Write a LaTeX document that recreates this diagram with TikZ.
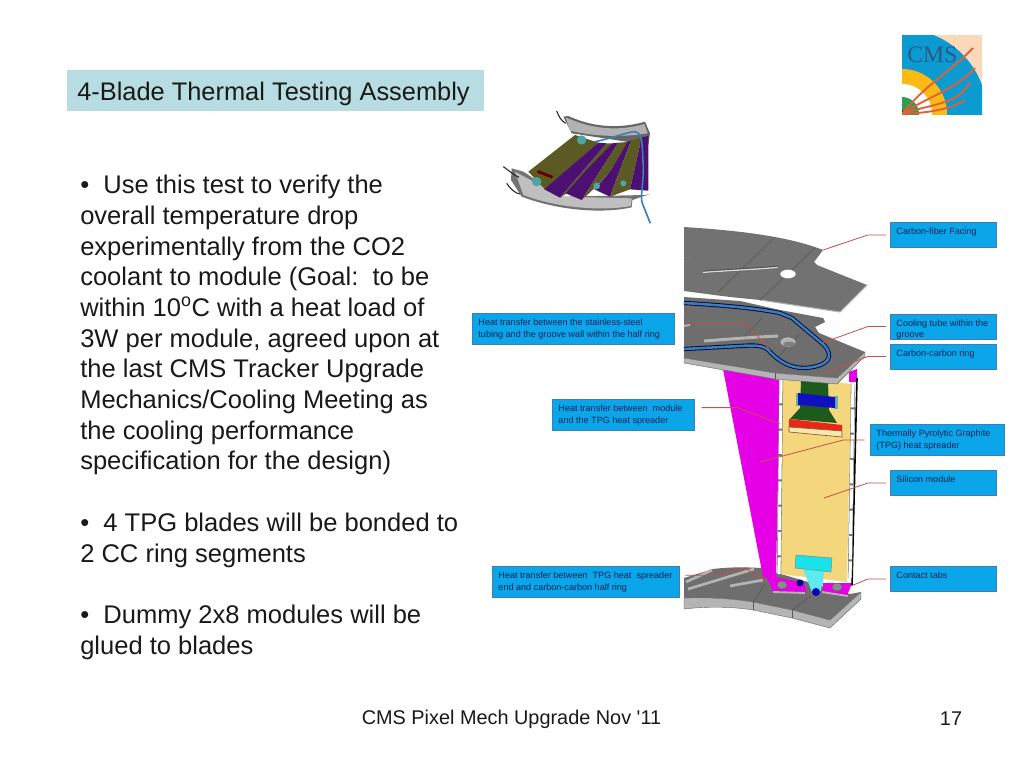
\documentclass[tikz,border=0pt]{standalone}
\usepackage{fontspec}
\setmainfont{Liberation Sans}
\newfontfamily\cmsserif{Liberation Serif}
\newfontfamily\plainsans[Ligatures=ResetAll]{Liberation Sans}
\definecolor{titlebg}{HTML}{B7DDE2}
\definecolor{calloutfill}{HTML}{0BA5EA}
\definecolor{calloutedge}{HTML}{3F7FAE}
\definecolor{callouttext}{HTML}{062458}
\definecolor{leader}{HTML}{C8504A}
\definecolor{plate}{HTML}{6E6E6E}
\definecolor{facing}{HTML}{727272}
\definecolor{plateedge}{HTML}{B4B4B4}
\definecolor{wedge}{HTML}{E600E6}
\definecolor{modulecol}{HTML}{F4D67C}
\definecolor{tube}{HTML}{3A7FB5}
\definecolor{olive}{HTML}{5A5A22}
\definecolor{purp}{HTML}{4C1072}
\definecolor{peach}{HTML}{FBD9B8}
\definecolor{cmsblue}{HTML}{0C9BD0}
\definecolor{cmsyellow}{HTML}{FDB913}
\definecolor{cmsgreen}{HTML}{2E9E4F}
\definecolor{track}{HTML}{E0603A}
\definecolor{cmstext}{HTML}{2A5A8A}
\definecolor{cyantab}{HTML}{19E3E8}
\definecolor{greenpcb}{HTML}{1E5A1E}
\definecolor{chip}{HTML}{1010C0}
\definecolor{redbar}{HTML}{E8261A}
\tikzset{
  body/.style={anchor=north west,inner sep=0pt,align=left,font=\fontsize{19.15pt}{23pt}\selectfont,text=black!90},
  cbox/.style={anchor=north west,fill=calloutfill,draw=calloutedge,line width=0.7pt,inner xsep=4.5pt,inner ysep=0pt,text=callouttext,font=\fontsize{6.8pt}{8.7pt}\selectfont},
  lead/.style={draw=leader,line width=0.6pt},
  slotline/.style={draw=plateedge,line width=2pt},
  seam/.style={draw=black!65,line width=0.5pt},
  edgeside/.style={fill=plateedge,draw=black!60,line width=0.3pt},
}
\newcommand{\cbt}[3]{\parbox[c][#2][t]{#1}{\vspace{4.1pt}\raggedright #3}}
\begin{document}
\begin{tikzpicture}[x=0.75pt,y=-0.75pt]
\useasboundingbox (0,0) rectangle (1024,768);
\fill[white] (0,0) rectangle (1024,768);
% title
\node[anchor=north west,fill=titlebg,minimum width=312.75pt,minimum height=30.75pt,inner sep=0pt] (titlebox) at (67,70) {};
\node[anchor=west,inner sep=0pt,font=\fontsize{19.05pt}{23pt}\selectfont,text=black!90] (titletext) at (77,94) {4-Blade Thermal Testing Assembly};
% body
\node[body] (p1) at (80,175) {\textbullet{} \ Use this test to verify the\\overall temperature drop\\experimentally from the CO2\\coolant to module (Goal:\ \ to be\\within 10\textsuperscript{o}C with a heat load of\\3W per module, agreed upon at\\the last CMS Tracker Upgrade\\Mechanics/Cooling Meeting as\\the cooling performance\\specification for the design)};
\node[body] (p2) at (80,513) {\textbullet{} \ 4 TPG blades will be bonded to\\2 CC ring segments};
\node[body] (p3) at (80,605) {\textbullet{} \ Dummy 2x8 modules will be\\glued to blades};
% footer
\node[font=\plainsans\fontsize{14.9pt}{18pt}\selectfont,text=black!90,inner sep=0pt] (foot) at (511.5,719) {CMS Pixel Mech Upgrade Nov '11};
\node[font=\fontsize{14.9pt}{18pt}\selectfont,text=black!90,inner sep=0pt] (pageno) at (951,719) {17};
% logo
\begin{scope}
\clip (902,35) rectangle (982,114);
\fill[peach] (902,35) rectangle (982,114);
\fill[cmsblue] (902,114) circle[radius=85];
\fill[cmsyellow] (902,114) circle[radius=45];
\fill[white] (902,114) circle[radius=30];
\fill[cmsgreen] (902,114) circle[radius=17];
\fill[red!70!black] (902,114) circle[radius=4];
\draw[track,line width=1.4pt] (902,114) .. controls (925,85) and (950,72) .. (973,48);
\draw[track,line width=1.4pt] (902,114) .. controls (925,98) and (955,90) .. (975,68);
\draw[track,line width=1.4pt] (902,114) .. controls (925,105) and (960,105) .. (970,82);
\draw[track,line width=1.4pt] (902,114) .. controls (925,113) and (950,110) .. (965,100);
\end{scope}
\node[anchor=base west,inner sep=0pt,text=cmstext,font=\cmsserif\fontsize{17.8pt}{20pt}\selectfont] (cmslabel) at (907,62) {CMS};
% small assembly picture
\begin{scope}[shift={(495,100)},x=0.25pt,y=-0.25pt]
\fill[black!60] (205,50) -- (220,48) .. controls (300,85) and (380,85) .. (450,65) -- (465,100) -- (460,135) -- (230,100) -- cycle;
\fill[black!30] (212,52) .. controls (300,92) and (380,92) .. (448,72) -- (458,100) .. controls (380,112) and (300,110) .. (225,92) -- cycle;
\fill[black!55] (50,205) -- (85,215) -- (200,290) -- (450,285) -- (465,282) -- (412,300) -- (410,322) .. controls (330,340) and (200,335) .. (80,290) -- (48,240) -- cycle;
\fill[black!25] (60,215) -- (200,290) -- (410,295) -- (408,318) .. controls (330,332) and (200,328) .. (85,285) -- cycle;
\fill[olive] (240,105) -- (310,128) -- (150,268) -- (100,215) -- cycle;
\fill[purp] (310,128) -- (335,130) -- (195,293) -- (148,268) -- cycle;
\fill[olive] (335,130) -- (352,130) -- (270,225) -- (215,280) -- (195,293) -- cycle;
\fill[purp] (352,130) -- (370,128) -- (260,300) -- (212,280) -- (270,215) -- cycle;
\fill[olive] (370,128) -- (398,126) -- (345,215) -- (298,265) -- (260,300) -- cycle;
\fill[purp] (398,125) -- (408,122) -- (345,290) -- (298,268) -- (345,215) -- cycle;
\fill[olive] (408,122) -- (440,112) -- (405,268) -- (345,290) -- cycle;
\fill[purp] (440,112) -- (460,108) -- (460,272) -- (405,268) -- cycle;
\fill[red!40!black] (130,210) -- (175,228) -- (170,235) -- (125,218) -- cycle;
\fill[teal!70] (260,120) circle[radius=14];
\fill[teal!70] (125,245) circle[radius=14];
\fill[teal!70] (305,258) circle[radius=10];
\fill[teal!70] (385,250) circle[radius=9];
\draw[black!85,line width=0.8pt] (185,33) .. controls (192,50) and (198,62) .. (212,70);
\draw[black!85,line width=0.8pt] (25,200) .. controls (40,210) and (55,225) .. (72,232);
\draw[black!85,line width=0.8pt] (35,250) .. controls (45,265) and (60,280) .. (75,282);
\draw[tube,line width=1.2pt] (300,125) .. controls (350,115) and (400,95) .. (420,95) .. controls (445,100) and (440,130) .. (445,200) .. controls (445,260) and (435,290) .. (442,310) -- (466,370);
\end{scope}
% bottom ring
\fill[edgeside] (684,598) .. controls (710,597) and (735,599) .. (753,602) -- (792,610) -- (830,620) -- (861,592) -- (861,599) -- (830,628) -- (792,618) -- (753,610) .. controls (735,607) and (710,606) .. (684,609) -- cycle;
\fill[plate] (684,578) -- (713,569) .. controls (730,567) and (745,567) .. (760,568) -- (850,594) -- (861,592) -- (830,620) -- (792,610) -- (753,602) .. controls (735,599) and (710,597) .. (684,598) -- cycle;
\draw[seam] (765,584) -- (753,602);
\draw[seam] (811,596) -- (792,610);
\draw[seam] (753,602) -- (753,610);
\draw[seam] (792,610) -- (792,618);
\draw[slotline] (686,582) -- (712,570);
\draw[slotline] (688,589) -- (754,569);
\draw[slotline] (730,586) -- (763,580);
% magenta wedge
\fill[wedge] (723,369) -- (780,380) -- (776,577) -- (805,583) -- (806,593) -- (773,592) -- (767,578) -- (763,577) -- cycle;
\fill[wedge] (823,583) -- (852,583) -- (847,596) -- (823,592) -- cycle;
\fill[wedge] (849,372) -- (857,369) -- (857,382) -- (849,382) -- cycle;
\draw[plateedge,line width=1.4pt] (773,592) -- (805,593);
\draw[plateedge,line width=1.4pt] (822,592) -- (848,596);
\fill[black!45,draw=black!60,line width=0.3pt] (782,585) ellipse (5 and 4);
\fill[black!45,draw=black!60,line width=0.3pt] (837,587) ellipse (5 and 4);
% module
\fill[modulecol] (782,376) -- (851,384) -- (847,582) -- (780,574) -- cycle;
\draw[black,line width=1.2pt] (857,378) -- (852,585);
\draw[black!55,line width=3.2pt] (781,380) -- (779,574);
\draw[white,line width=2.4pt,dash pattern=on 17.5pt off 1.5pt] (781,380) -- (779,574);
\draw[black!55,line width=3.2pt] (853,384) -- (850,578);
\draw[white,line width=2.4pt,dash pattern=on 17.5pt off 1.5pt] (853,384) -- (850,578);
% PCB stack
\fill[greenpcb] (801,380) -- (828,382) -- (829,410) -- (837,423) -- (790,419) -- (800,408) -- cycle;
\fill[teal!60!white] (796,393) rectangle (800,406);
\fill[teal!60!white] (834,396) rectangle (838,409);
\fill[chip] (798,393) -- (835,397) -- (835,408) -- (798,405) -- cycle;
\fill[redbar] (789,419) -- (842,425) -- (842,431) -- (789,427) -- cycle;
\fill[modulecol!60!white,draw=brown!70!black,line width=0.5pt] (789,427) -- (842,431) -- (842,437) -- (789,432) -- cycle;
% cyan tab
\fill[cyantab!70!white] (803,569) -- (824,571) -- (823,583) -- (820,592) -- (812,592) -- cycle;
\fill[cyantab,draw=black!50,line width=0.3pt] (796,555) -- (832,558) -- (831,572) -- (795,568) -- cycle;
\fill[blue!60!black] (800,583) circle[radius=3.5];
\fill[blue!75!black] (816,592) circle[radius=4];
% carbon-carbon ring
\fill[edgeside] (684,358) -- (775,373) -- (837,378) -- (865,352) -- (865,356) -- (837,384) -- (775,379) -- (684,363) -- cycle;
\fill[plate] (684,297) -- (740,301) -- (780,310) -- (823,318) -- (825,322) -- (815,327) -- (819,333) -- (865,352) -- (837,378) -- (775,373) -- (684,358) -- cycle;
\draw[seam] (775,373) -- (775,379);
\draw[seam] (762,318) -- (744,337);
\draw[seam] (800,334) -- (774,361);
\draw[line width=3.2pt,black!75!blue] (684,303) .. controls (720,305) and (755,308) .. (780,313) -- (792,318) -- (824,345) .. controls (834,356) and (830,366) .. (805,368) .. controls (790,368) and (780,362) .. (770,352) .. controls (765,345) and (755,345) .. (740,346) -- (684,349);
\draw[line width=1.9pt,tube] (684,303) .. controls (720,305) and (755,308) .. (780,313) -- (792,318) -- (824,345) .. controls (834,356) and (830,366) .. (805,368) .. controls (790,368) and (780,362) .. (770,352) .. controls (765,345) and (755,345) .. (740,346) -- (684,349);
\draw[slotline,line width=2.2pt] (704,341) .. controls (730,339) and (755,337) .. (778,336);
\draw[slotline,line width=1.5pt] (684,326) -- (690,325);
\fill[plateedge,draw=black!60,line width=0.3pt] (788,342) ellipse (8 and 5);
\fill[black!50] (789,344) ellipse (6 and 2.5);
% carbon-fiber facing
\fill[facing] (684,227) .. controls (730,230) and (785,235) .. (823,250) -- (814,262) -- (817,265) -- (867,285) -- (840,312) -- (760,300) -- (740,298) .. controls (720,296) and (700,293) .. (684,291) -- cycle;
\draw[plateedge,line width=0.8pt] (867,285) -- (840,312);
\draw[plateedge,line width=0.8pt] (840,312) -- (760,300);
\draw[seam] (775,237) -- (718,292);
\draw[seam] (815,248) -- (760,300);
\draw[black!70,line width=1.9pt] (703,272) .. controls (730,270) and (755,269) .. (778,267);
\draw[white!85!black,line width=1pt] (703,272.4) .. controls (730,270.4) and (755,269.4) .. (778,267.4);
\fill[white,draw=black!50,line width=0.3pt] (788,274) ellipse (8 and 4.5);
\draw[black!50,line width=0.6pt] (684,258) -- (690,257);
% callouts
\node[cbox] (cf) at (890,222) {\cbt{70.5pt}{18.75pt}{Carbon-fiber Facing}};
\node[cbox] (ct) at (890,313.5) {\cbt{70.5pt}{18.75pt}{Cooling tube within the\\groove}};
\node[cbox] (cc) at (890,343.5) {\cbt{70.5pt}{18.75pt}{Carbon-carbon ring}};
\node[cbox] (tpg) at (870,424) {\cbt{91.5pt}{23.25pt}{Thermally Pyrolytic Graphite\\(TPG) heat spreader}};
\node[cbox] (si) at (890,470) {\cbt{70.5pt}{18.75pt}{Silicon module}};
\node[cbox] (tabs) at (890,566) {\cbt{70.5pt}{18.75pt}{Contact tabs}};
\node[cbox] (hs) at (472,313) {\cbt{142.5pt}{23.25pt}{Heat transfer between the stainless-steel\\tubing and the groove wall within the half ring}};
\node[cbox] (hm) at (552,399) {\cbt{97.5pt}{23.25pt}{Heat transfer between\ \ module\\and the TPG heat spreader}};
\node[cbox] (he) at (492,566) {\cbt{131.25pt}{23.25pt}{Heat transfer between\ \ TPG heat\ \ spreader\\end and carbon-carbon half ring}};
% leader end points
\coordinate (cfEnd) at (823,250);
\coordinate (ctEnd) at (822,343);
\coordinate (ccEnd) at (824,373);
\coordinate (tpgEnd) at (760,462);
\coordinate (siEnd) at (824,498);
\coordinate (tabsEnd) at (851,586);
\coordinate (hsEnd) at (770,350);
\coordinate (hmEnd) at (780,424);
\coordinate (heBend) at (745,568);
\coordinate (heEnd) at (764,580);
\draw[lead] ([xshift=-3pt]cf.west) -- ++(-13.5pt,0) -- (cfEnd);
\draw[lead] ([xshift=-3pt]ct.west) -- ++(-13.5pt,0) -- (ctEnd);
\draw[lead] ([xshift=-3pt]cc.west) -- ++(-13.5pt,0) -- (ccEnd);
\draw[lead] ([xshift=-4pt]tpg.west) -- ++(-16pt,0) -- (tpgEnd);
\draw[lead] ([xshift=-3pt]si.west) -- ++(-13.5pt,0) -- (siEnd);
\draw[lead] ([xshift=-3pt]tabs.west) -- ++(-13.5pt,0) -- (tabsEnd);
\draw[lead] ([xshift=8pt,yshift=4.5pt]hs.east) -- ++(45pt,0) -- (hsEnd);
\draw[lead] ([xshift=5pt,yshift=5.5pt]hm.east) -- ++(27pt,0) -- (hmEnd);
\draw[lead] ([xshift=4pt,yshift=5pt]he.east) -- ++(23pt,0) -- (heBend) -- (heEnd);
\end{tikzpicture}
\end{document}
